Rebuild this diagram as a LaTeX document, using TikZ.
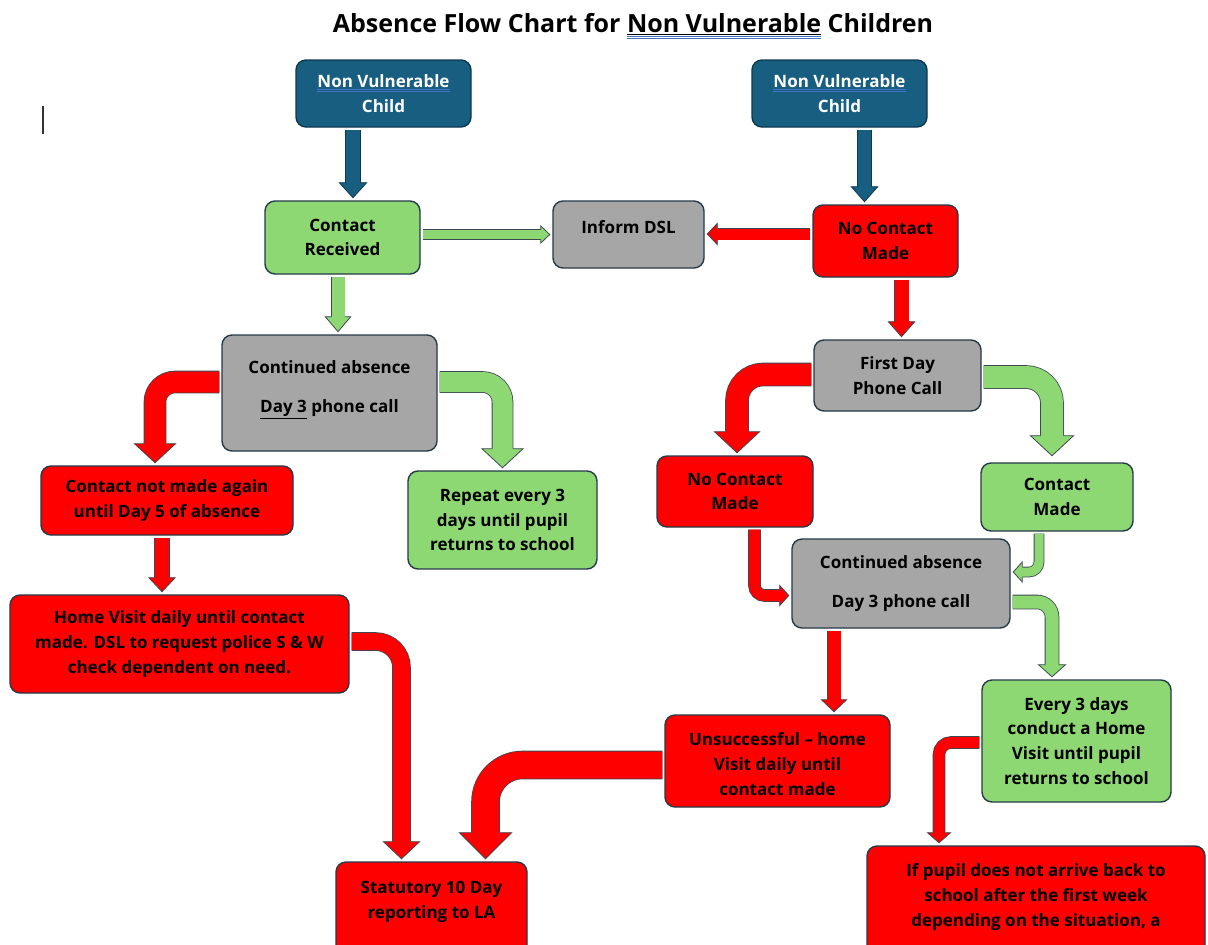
\documentclass[tikz,border=0pt]{standalone}
\usepackage{fontspec}
\setmainfont{Open Sans}
\usetikzlibrary{arrows.meta}

\definecolor{nvblue}{RGB}{23,94,128}
\definecolor{nvline}{RGB}{14,56,80}
\definecolor{okgreen}{RGB}{142,216,115}
\definecolor{dslgrey}{RGB}{166,166,166}
\definecolor{alertred}{RGB}{255,0,0}
\definecolor{boxline}{RGB}{38,58,72}
\definecolor{arrline}{RGB}{60,72,82}
\definecolor{spellblue}{RGB}{68,114,196}

\newlength\spellwd
\newcommand\spellmark[2][4pt]{\settowidth\spellwd{#2}\rlap{\color{spellblue}\rule[-#1]{\spellwd}{0.9pt}}\rlap{\color{spellblue}\rule[\dimexpr-#1-2pt\relax]{\spellwd}{0.9pt}}#2}

\begin{document}
\begin{tikzpicture}[x=1pt, y=-1pt,
    box/.style={draw=boxline, line width=1.4pt, rounded corners=10pt, align=center, inner sep=2pt, font=\fontsize{17}{24.8}\selectfont\bfseries},
    bluebox/.style={box, fill=nvblue, draw=nvline, text=white},
    greenbox/.style={box, fill=okgreen},
    greybox/.style={box, fill=dslgrey},
    redbox/.style={box, fill=alertred},
    flow/.style n args={5}{line width=#1, draw=#4, shorten <=2pt, shorten >=#3+0.5pt,
      preaction={draw=#5, line width=#1+1.6pt, shorten >=2pt, -{Triangle[length=#3, width=#2, fill=#4, line width=0.8pt]}}}]
    \useasboundingbox (0,0) rectangle (1208,945);
    \clip (0,0) rectangle (1208,945);
    \fill[white] (0,0) rectangle (1208,945);
    \node[font=\fontsize{25}{30}\selectfont\bfseries] (title) at (633,26) {Absence Flow Chart for \spellmark[4.5pt]{\underline{Non Vulnerable}} Children};
    \draw[line width=1.3pt, black!80] (43,106) -- (43,134);

    % left column
    \node[bluebox, minimum width=175pt, minimum height=67pt] (nvleft) at (383.5,93.5) {\spellmark[2.3pt]{Non Vulnerable}\\Child};
    \node[greenbox, minimum width=155pt, minimum height=73pt] (gotcontact) at (342.5,237.5) {Contact\\Received};
    \node[greybox, minimum width=151pt, minimum height=67pt] (informdsl) at (628.5,234.5) {Inform DSL\\[-9.8pt]\mbox{}};
    \node[greybox, minimum width=215pt, minimum height=116pt] (contleft) at (329.5,393) {Continued absence\\[15pt]\underline{Day 3} phone call\\[-12pt]\mbox{}};
    \node[redbox, minimum width=252pt, minimum height=69pt] (notagain) at (167,500.5) {Contact not made again\\until Day 5 of absence};
    \node[greenbox, minimum width=189pt, minimum height=98pt] (repeatthree) at (502.5,520) {Repeat every 3\\days until pupil\\returns to school};
    \node[redbox, minimum width=339pt, minimum height=98pt] (homevisit) at (179.5,644) {Home Visit daily until contact\\made. DSL to request police S \& W\\check dependent on need.};
    \node[redbox, minimum width=191pt, minimum height=100pt] (statutory) at (431.5,912) {Statutory 10 Day\\reporting to LA\\[0pt]\mbox{}};

    % right column
    \node[bluebox, minimum width=175pt, minimum height=67pt] (nvright) at (839.5,93.5) {\spellmark[2.3pt]{Non Vulnerable}\\Child};
    \node[redbox, minimum width=145pt, minimum height=72pt] (nocontact) at (885.5,241) {No Contact\\Made};
    \node[greybox, minimum width=167pt, minimum height=71pt] (firstday) at (897.5,375.5) {First Day\\Phone Call};
    \node[redbox, minimum width=156pt, minimum height=71pt] (nocontacttwo) at (735,491.5) {No Contact\\Made};
    \node[greenbox, minimum width=152pt, minimum height=68pt] (contactmade) at (1057,497) {Contact\\Made};
    \node[greybox, minimum width=218pt, minimum height=89pt] (contright) at (901,583.5) {Continued absence\\[14pt]Day 3 phone call};
    \node[redbox, minimum width=225pt, minimum height=92pt] (unsuccessful) at (777.5,761) {Unsuccessful – home\\Visit daily until\\contact made\\[-31pt]\mbox{}};
    \node[greenbox, minimum width=189pt, minimum height=122pt] (everythree) at (1076.5,741) {Every 3 days\\conduct a Home\\Visit until pupil\\returns to school};
    \node[redbox, minimum width=338pt, minimum height=130pt] (ifpupil) at (1036,911) {If pupil does not arrive back to\\school after the first week\\depending on the situation, a\\[7pt]\mbox{}};

    % straight arrows
    \draw[flow={14pt}{29pt}{16pt}{nvblue}{nvline}] ([xshift=-30.5pt]nvleft.south) -- ([xshift=-30.5pt]nvleft.south |- gotcontact.north);
    \draw[flow={13pt}{28pt}{16pt}{nvblue}{nvline}] ([xshift=25pt]nvright.south) -- ([xshift=25pt]nvright.south |- nocontact.north);
    \draw[flow={9pt}{19pt}{10pt}{okgreen}{arrline}] ([yshift=3pt]gotcontact.east) -- ([yshift=3pt]gotcontact.east -| informdsl.west);
    \draw[flow={11pt}{23pt}{11pt}{alertred}{arrline}] ([yshift=7pt]nocontact.west) -- ([yshift=7pt]nocontact.west -| informdsl.east);
    \draw[flow={13pt}{27pt}{16pt}{okgreen}{arrline}] ([xshift=-4.5pt]gotcontact.south) -- ([xshift=-4.5pt]gotcontact.south |- contleft.north);
    \draw[flow={14pt}{28pt}{16pt}{alertred}{arrline}] ([xshift=16pt]nocontact.south) -- ([xshift=16pt]nocontact.south |- firstday.north);
    \draw[flow={14pt}{28pt}{15pt}{alertred}{arrline}] ([xshift=-5pt]notagain.south) -- ([xshift=-5pt]notagain.south |- homevisit.north);
    \draw[flow={13pt}{27pt}{13pt}{alertred}{arrline}] ([xshift=-67pt]contright.south) -- ([xshift=-67pt]contright.south |- unsuccessful.north);

    % bent arrows
    \draw[flow={21pt}{43pt}{20pt}{alertred}{arrline}, rounded corners=20pt] ([yshift=11pt]contleft.west) -| ([xshift=-12pt]notagain.north);
    \draw[flow={20pt}{43pt}{20pt}{okgreen}{arrline}, rounded corners=20pt] ([yshift=11pt]contleft.east) -| (repeatthree.north);
    \draw[flow={17pt}{38pt}{18pt}{alertred}{arrline}, rounded corners=26pt] ([yshift=2.5pt]homevisit.east) -| ([xshift=-30pt]statutory.north);
    \draw[flow={27pt}{54pt}{27pt}{alertred}{arrline}, rounded corners=37pt] ([yshift=-4pt]unsuccessful.west) -| ([xshift=54pt]statutory.north);
    \draw[flow={22pt}{47pt}{22pt}{alertred}{arrline}, rounded corners=26pt] ([yshift=1pt]firstday.west) -| ([xshift=2pt]nocontacttwo.north);
    \draw[flow={22pt}{45pt}{21pt}{okgreen}{arrline}, rounded corners=26pt] ([yshift=-1.5pt]firstday.east) -| ([xshift=-5pt,yshift=4pt]contactmade.north);
    \draw[flow={11pt}{22pt}{10pt}{alertred}{arrline}, rounded corners=10pt] ([xshift=19.5pt]nocontacttwo.south) |- ([yshift=-12pt]contright.west);
    \draw[flow={9pt}{22pt}{10pt}{okgreen}{arrline}, rounded corners=10pt] ([xshift=-18pt]contactmade.south) |- ([yshift=11.5pt]contright.east);
    \draw[flow={13pt}{29pt}{13pt}{okgreen}{arrline}, rounded corners=15pt] ([yshift=-18.5pt]contright.east) -| ([xshift=-24.5pt]everythree.north);
    \draw[flow={11pt}{25pt}{11pt}{alertred}{arrline}, rounded corners=12pt] ([yshift=-1.5pt]everythree.west) -| ([xshift=-97pt]ifpupil.north);
\end{tikzpicture}
\end{document}
